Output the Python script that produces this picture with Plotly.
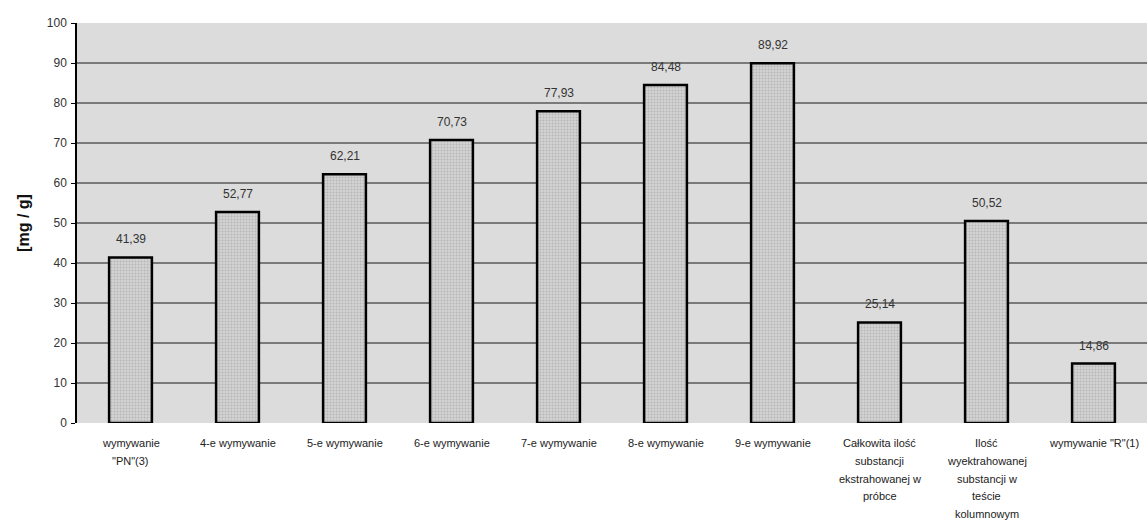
import plotly.graph_objects as go

categories = [
    "wymywanie<br>\"PN\"(3)",
    "4-e wymywanie",
    "5-e wymywanie",
    "6-e wymywanie",
    "7-e wymywanie",
    "8-e wymywanie",
    "9-e wymywanie",
    "Całkowita ilość<br>substancji<br>ekstrahowanej w<br>próbce",
    "Ilość<br>wyektrahowanej<br>substancji w<br>teście<br>kolumnowym",
    "wymywanie \"R\"(1)",
]
values = [41.39, 52.77, 62.21, 70.73, 77.93, 84.48, 89.92, 25.14, 50.52, 14.86]
y_ticks = [0, 10, 20, 30, 40, 50, 60, 70, 80, 90, 100]

labels = [f"{v:.2f}".replace(".", ",") for v in values]

fig = go.Figure(
    go.Bar(
        x=categories,
        y=values,
        width=0.4,
        marker=dict(
            color="#cfcfcf",
            line=dict(color="#000000", width=2.5),
            pattern=dict(shape=".", fgcolor="#9a9a9a", bgcolor="#d2d2d2", size=3, solidity=0.35),
        ),
    )
)

# value labels above each bar
for cat, v, lab in zip(categories, values, labels):
    fig.add_annotation(
        x=cat, y=v, xref="x", yref="y", text=lab, showarrow=False,
        yanchor="middle", yshift=18,
        font=dict(family="Liberation Sans, Arial", size=12, color="#333333"),
    )

# category labels below the axis, with wider line spacing
for cat in categories:
    for i, line in enumerate(cat.split("<br>")):
        fig.add_annotation(
            x=cat, y=0, xref="x", yref="paper", text=line, showarrow=False,
            yanchor="middle", yshift=-(20 + i * 17.8),
            font=dict(family="Liberation Sans, Arial", size=11, color="#222222"),
        )

fig.update_layout(
    width=1148,
    height=521,
    margin=dict(l=77, r=1, t=23, b=98),
    paper_bgcolor="#ffffff",
    plot_bgcolor="#dcdcdc",
    showlegend=False,
    font=dict(family="Liberation Sans, Arial", color="#222222"),
)

fig.update_xaxes(
    showticklabels=False,
    showgrid=False,
    showline=False,
    ticks="",
)

fig.update_yaxes(
    range=[0, 100],
    tickvals=y_ticks,
    tickfont=dict(size=12, color="#333333"),
    showgrid=True,
    gridcolor="#7a7a7a",
    gridwidth=1.5,
    showline=True,
    linecolor="#000000",
    linewidth=1.5,
    ticks="outside",
    ticklen=4,
    tickcolor="#000000",
    ticklabelstandoff=2,
    zeroline=False,
    title=dict(text="<b>[mg / g]</b>", font=dict(size=16, color="#111111"), standoff=13),
)

fig.write_html("out.html")
